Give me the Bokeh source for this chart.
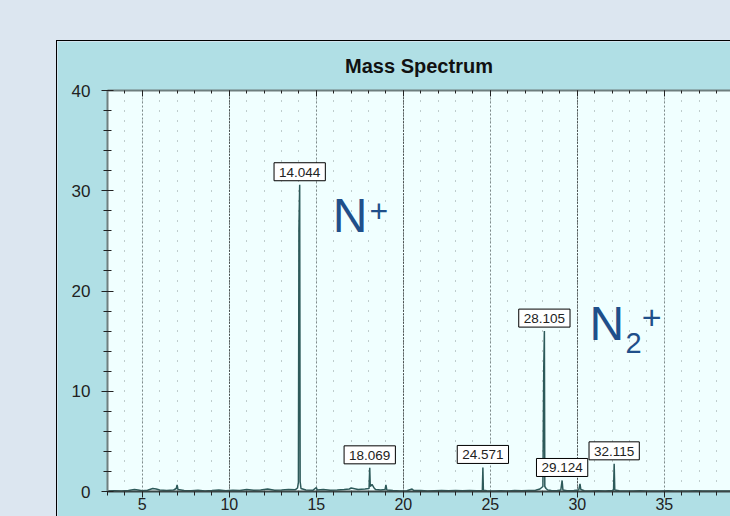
from bokeh.plotting import figure
from bokeh.models import (Range1d, LinearAxis, SingleIntervalTicker, Grid, Label,
                          CustomLabelingPolicy)
from bokeh.core.properties import value
from bokeh.embed import file_html
from bokeh.resources import INLINE

# ---------------- data ----------------
mass = [3.00, 3.40, 3.80, 4.20, 4.55, 4.75, 5.00, 5.30, 5.60, 5.80,
        6.00, 6.40, 6.80, 6.95, 7.00, 7.05, 7.40, 7.80, 8.20, 8.60,
        9.00, 9.40, 9.80, 10.20, 10.60, 11.00, 11.40, 11.80, 12.20, 12.60,
        13.00, 13.40, 13.80, 13.92, 13.97, 14.00, 14.044, 14.07, 14.12, 14.40,
        14.80, 15.00, 15.05, 15.40, 15.80, 16.20, 16.60, 16.90, 17.00, 17.40,
        17.80, 18.03, 18.069, 18.10, 18.20, 18.30, 18.40, 18.70, 18.95, 19.00,
        19.05, 19.40, 19.80, 20.20, 20.50, 20.60, 21.00, 21.40, 21.80, 22.20,
        22.60, 23.00, 23.40, 23.80, 24.20, 24.54, 24.571, 24.60, 24.80, 25.20,
        25.60, 26.00, 26.40, 26.80, 27.20, 27.60, 27.85, 27.95, 28.02, 28.07,
        28.105, 28.13, 28.20, 28.30, 28.50, 28.80, 29.05, 29.124, 29.17, 29.40,
        29.80, 30.08, 30.15, 30.20, 30.40, 30.80, 31.20, 31.60, 32.00, 32.08,
        32.115, 32.15, 32.40, 32.80, 33.20, 33.60, 34.00, 34.40, 34.80, 35.20,
        35.60, 36.00, 36.40, 36.80, 37.20, 37.60, 38.00, 38.40, 38.80]
intensity = [0.05, 0.08, 0.06, 0.10, 0.20, 0.15, 0.08, 0.12, 0.30, 0.25,
             0.15, 0.10, 0.15, 0.30, 0.65, 0.20, 0.10, 0.08, 0.12, 0.06,
             0.10, 0.15, 0.08, 0.12, 0.10, 0.20, 0.12, 0.15, 0.25, 0.12,
             0.15, 0.20, 0.18, 0.35, 0.90, 26.2, 30.6, 1.00, 0.30, 0.15,
             0.12, 0.40, 0.15, 0.20, 0.12, 0.15, 0.20, 0.25, 0.35, 0.20,
             0.25, 0.30, 2.36, 0.50, 0.70, 0.40, 0.20, 0.15, 0.20, 0.65,
             0.15, 0.10, 0.05, 0.08, 0.25, 0.10, 0.10, 0.06, 0.08, 0.10,
             0.08, 0.10, 0.08, 0.10, 0.08, 0.10, 2.40, 0.12, 0.08, 0.05,
             0.08, 0.06, 0.10, 0.08, 0.10, 0.12, 0.25, 0.40, 0.50, 12.5,
             16.0, 0.50, 0.30, 0.15, 0.10, 0.08, 0.15, 1.10, 0.15, 0.08,
             0.10, 0.15, 0.75, 0.20, 0.08, 0.06, 0.08, 0.06, 0.10, 0.15,
             2.76, 0.15, 0.08, 0.06, 0.05, 0.08, 0.05, 0.06, 0.05, 0.08,
             0.05, 0.06, 0.05, 0.08, 0.05, 0.06, 0.05, 0.06, 0.05]

peak_mass = [14.044, 18.069, 24.571, 28.105, 29.124, 32.115]
peak_height = [30.6, 2.36, 2.40, 16.0, 1.10, 2.76]

ion_texts = ["N", "+", "N", "2", "+"]
ion_x = [15.95, 18.05, 30.70, 32.77, 33.70]
ion_y = [27.57, 28.01, 16.78, 14.84, 17.38]
ion_size = ["48px", "32px", "48px", "29px", "34px"]

FONT = "Liberation Sans"

p = figure(width=673, height=475,
           x_range=Range1d(3, 38.8), y_range=Range1d(0, 40),
           output_backend="svg", toolbar_location=None,
           min_border_left=50, min_border_top=49, min_border_right=0,
           min_border_bottom=25,
           background_fill_color="#f0ffff", border_fill_color="#b0dfe5",
           outline_line_color=None)
p.styles = {"margin-left": "57px", "margin-top": "41px",
            "outline": "1px solid #000000"}

p.title.text = "Mass Spectrum"
p.title.align = "center"
p.title.text_font = FONT
p.title.text_font_size = "20px"
p.title.text_font_style = "bold"
p.title.text_color = "#111111"
p.title.standoff = 20

p.xgrid.visible = False
p.ygrid.visible = False

AX_COL = "#6f7f7f"
TICK_COL = "#222222"

xa = p.xaxis[0]
xa.ticker = SingleIntervalTicker(interval=5, num_minor_ticks=5)
xa.axis_line_color = "#3a4646"
xa.axis_line_width = 2
xa.major_tick_in = 0
xa.major_tick_out = 6
xa.minor_tick_in = 0
xa.minor_tick_out = 4
xa.major_tick_line_color = TICK_COL
xa.minor_tick_line_color = TICK_COL
xa.major_label_standoff = 0
xa.major_label_text_font = FONT
xa.major_label_text_font_size = "16px"
xa.major_label_text_color = "#222222"

ya = p.yaxis[0]
ya.ticker = SingleIntervalTicker(interval=10, num_minor_ticks=5)
ya.axis_line_color = AX_COL
ya.axis_line_width = 2
ya.major_tick_in = 6
ya.major_tick_out = 6
ya.minor_tick_in = 4
ya.minor_tick_out = 4
ya.major_tick_line_color = TICK_COL
ya.minor_tick_line_color = TICK_COL
ya.major_label_standoff = 11
ya.major_label_text_font = FONT
ya.major_label_text_font_size = "17px"
ya.major_label_text_color = "#222222"

no_labels = CustomLabelingPolicy(code="""
for (const i of indices) indices.unset(i)
return indices
""")
top = LinearAxis(ticker=SingleIntervalTicker(interval=5, num_minor_ticks=5),
                 axis_line_color=AX_COL, axis_line_width=2,
                 major_tick_in=6, major_tick_out=0,
                 minor_tick_in=3, minor_tick_out=0,
                 major_tick_line_color=TICK_COL, minor_tick_line_color=TICK_COL,
                 major_label_standoff=0, major_label_text_font_size="1px",
                 major_label_policy=no_labels)
p.add_layout(top, "above")

p.add_layout(Grid(dimension=0, ticker=SingleIntervalTicker(interval=1),
                  grid_line_color="#8e9a9a", grid_line_dash="1 9",
                  grid_line_width=1))
p.add_layout(Grid(dimension=0, ticker=SingleIntervalTicker(interval=5),
                  grid_line_color="#7f8b8b", grid_line_dash="2 2",
                  grid_line_width=1))
p.add_layout(Grid(dimension=0, ticker=SingleIntervalTicker(interval=10),
                  grid_line_color="#111111", grid_line_dash="1 2",
                  grid_line_width=1))

p.line(mass, intensity, line_color="#2d5a5a", line_width=1.5)

for m, h in zip(peak_mass, peak_height):
    p.add_layout(Label(x=m, y=h, text=f"{m:.3f}", text_align="center",
                       text_baseline="bottom", y_offset=4,
                       text_font=FONT, text_font_size="13.5px",
                       text_color="#222222",
                       background_fill_color="#ffffff",
                       border_line_color="#000000", border_line_width=1,
                       padding=dict(left=5, right=5, top=5, bottom=4)))

for t, x, y, s in zip(ion_texts, ion_x, ion_y, ion_size):
    p.text(x=[x], y=[y], text=[t], text_font=value(FONT), text_font_size=s,
           text_color="#1f4f8a", text_align="left", text_baseline="alphabetic")

html = file_html(p, INLINE)
html = html.replace("<head>", "<head><style>html,body{margin:0;padding:0;background:#dce6f0;overflow:hidden;}</style>", 1)
open("out.html", "w").write(html)
